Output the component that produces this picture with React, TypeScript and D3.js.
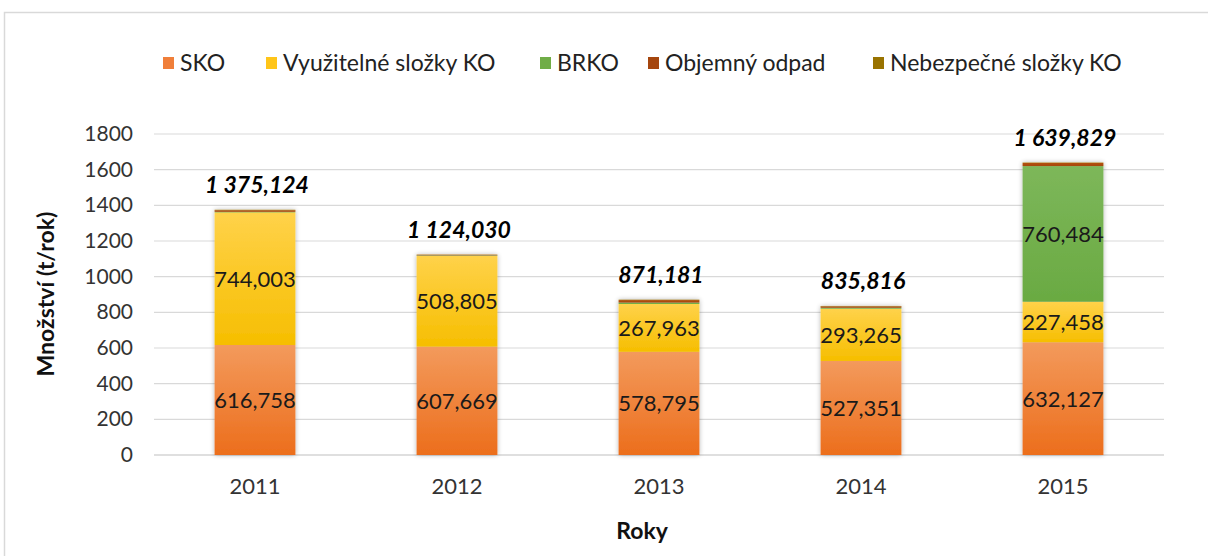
import React from "react";
import * as d3 from "d3";

const years = ["2011", "2012", "2013", "2014", "2015"];
const sko = [616.758, 607.669, 578.795, 527.351, 632.127];
const vyuzitelne = [744.003, 508.805, 267.963, 293.265, 227.458];
const brko = [2.9, 3.0, 8.0, 5.0, 760.484];
const objemny = [9.0, 3.5, 14.0, 8.0, 18.0];
const nebezpecne = [2.463, 1.056, 2.423, 2.2, 1.76];
const totals = [1375.124, 1124.03, 871.181, 835.816, 1639.829];
const yTicks = [0, 200, 400, 600, 800, 1000, 1200, 1400, 1600, 1800];

const seriesNames = ["SKO", "Využitelné složky KO", "BRKO", "Objemný odpad", "Nebezpečné složky KO"];
const seriesData = [sko, vyuzitelne, brko, objemny, nebezpecne];
const showLabel = [true, true, true, false, false];
const colorsTop = ["#F39A5C", "#FFD24A", "#7DB75A", "#B4520F", "#A07A10"];
const colorsBot = ["#EC6E1C", "#F6BE00", "#6AAA42", "#A5460E", "#946F00"];
const legendColors = ["#F07F3A", "#FFC519", "#70AD47", "#A5460E", "#997300"];

const W = 1208, H = 556;
const plot = { left: 154, right: 1164, top: 134, bottom: 455 };
const FONT = "Lato, 'Open Sans', sans-serif";

const locale = d3.formatLocale({ decimal: ",", thousands: " ", grouping: [3], currency: ["", ""] });
const fmt = locale.format(",.3f");

export default function App() {
  const x = d3.scaleBand<string>().domain(years).range([plot.left, plot.right]).paddingInner(0.6).paddingOuter(0.3);
  const y = d3.scaleLinear().domain([0, 1800]).range([plot.bottom, plot.top]);

  const table = years.map((yr, i) => {
    const o: any = { year: yr };
    seriesNames.forEach((s, k) => (o[s] = seriesData[k][i]));
    return o;
  });
  const stack = d3.stack<any>().keys(seriesNames)(table);
  const bw = x.bandwidth();

  const legendX = [163, 266, 540, 648, 873];

  return (
    <svg width={W} height={H} style={{ position: "absolute", left: 0, top: 0, background: "#fff" }} fontFamily={FONT}>
      <defs>
        {seriesNames.map((s, k) => (
          <linearGradient key={s} id={`g${k}`} x1="0" y1="0" x2="0" y2="1">
            <stop offset="0" stopColor={colorsTop[k]} />
            <stop offset="1" stopColor={colorsBot[k]} />
          </linearGradient>
        ))}
        <filter id="shadow" x="-20%" y="-5%" width="140%" height="110%">
          <feGaussianBlur in="SourceAlpha" stdDeviation="2.5" />
          <feComponentTransfer>
            <feFuncA type="linear" slope="0.3" />
          </feComponentTransfer>
          <feMerge>
            <feMergeNode />
            <feMergeNode in="SourceGraphic" />
          </feMerge>
        </filter>
      </defs>
      <rect x={4.5} y={12.5} width={1220} height={560} fill="none" stroke="#D9D9D9" strokeWidth={1.5} />

      {/* legend */}
      {seriesNames.map((s, k) => (
        <g key={s} transform={`translate(${legendX[k]},63)`}>
          <rect x={0} y={-6} width={11} height={12} fill={legendColors[k]} />
          <text x={17} y={8} fontSize={23} fill="#222">{s}</text>
        </g>
      ))}

      {/* grid */}
      {yTicks.map((t) => (
        <g key={t}>
          <line x1={plot.left} x2={plot.right} y1={y(t)} y2={y(t)} stroke={t === 0 ? "#BFBFBF" : "#D9D9D9"} strokeWidth={1.2} />
          <text x={133} y={y(t) + 7} textAnchor="end" fontSize={21} fill="#333">{t}</text>
        </g>
      ))}

      {/* bars */}
      <g filter="url(#shadow)">
        {stack.map((layer, k) => (
          <g key={layer.key}>
            {layer.map((d, i) => (
              <rect
                key={i}
                x={x(years[i])!}
                y={y(d[1])}
                width={bw}
                height={Math.max(0, y(d[0]) - y(d[1]))}
                fill={`url(#g${k})`}
              />
            ))}
          </g>
        ))}
      </g>

      {/* segment labels */}
      {stack.map((layer, k) =>
        showLabel[k]
          ? layer.map((d, i) =>
              d[1] - d[0] > 50 ? (
                <text
                  key={`${k}-${i}`}
                  x={x(years[i])! + bw / 2}
                  y={y((d[0] + d[1]) / 2) + 8}
                  textAnchor="middle"
                  fontSize={22}
                  fill="#1a1a1a"
                >
                  {fmt(seriesData[k][i])}
                </text>
              ) : null
            )
          : null
      )}

      {/* totals */}
      {years.map((yr, i) => (
        <text
          key={yr}
          x={x(yr)! + bw / 2 + 2}
          y={y(stack[stack.length - 1][i][1]) - 17}
          textAnchor="middle"
          fontSize={23}
          fontWeight="bold"
          fontStyle="italic"
          fill="#000"
        >
          {fmt(totals[i])}
        </text>
      ))}

      {/* x tick labels */}
      {years.map((yr) => (
        <text key={yr} x={x(yr)! + bw / 2} y={494} textAnchor="middle" fontSize={22} fill="#333">
          {yr}
        </text>
      ))}

      <text x={642} y={539} textAnchor="middle" fontSize={23} fontWeight="bold" fill="#111">
        Roky
      </text>
      <text
        transform={`translate(54,294) rotate(-90)`}
        textAnchor="middle"
        fontSize={23}
        fontWeight="bold"
        fill="#111"
      >
        Množství (t/rok)
      </text>
    </svg>
  );
}
